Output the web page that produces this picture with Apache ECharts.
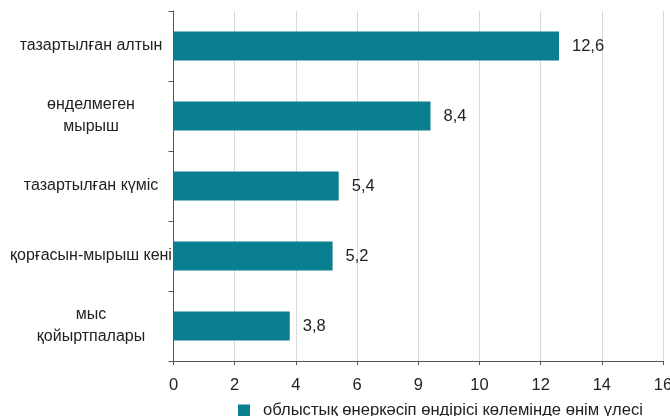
<!DOCTYPE html>
<html>
<head>
<meta charset="utf-8">
<script src="https://cdn.jsdelivr.net/npm/echarts@6/dist/echarts.min.js"></script>
<style>
html,body{margin:0;padding:0;background:#fff;}
#chart{width:670px;height:416px;}
</style>
</head>
<body>
<div id="chart"></div>
<script>
var categories = [
  'тазартылған алтын',
  'өнделмеген\nмырыш',
  'тазартылған күміс',
  'қорғасын-мырыш кені',
  'мыс\nқойыртпалары'
];
var values = [12.6, 8.4, 5.4, 5.2, 3.8];
var tickLabels = ['0', '2', '4', '6', '9', '10', '12', '14', '16'];
var seriesName = 'облыстық өнеркәсіп өндірісі көлемінде өнім үлесі';

var FONT = '"Liberation Sans", Arial, sans-serif';
var chart = echarts.init(document.getElementById('chart'), null, {renderer: 'canvas'});
chart.setOption({
  animation: false,
  backgroundColor: '#ffffff',
  textStyle: {fontFamily: FONT},
  grid: {left: 173.5, right: 7, top: 11, bottom: 55, containLabel: false, outerBoundsMode: 'none'},
  legend: {
    left: 238,
    top: 402,
    padding: 0,
    icon: 'rect',
    itemWidth: 12,
    itemHeight: 12,
    itemGap: 10,
    textStyle: {fontFamily: FONT, fontSize: 16.6, color: '#222', padding: [0, 0, 0, 8]},
    data: [seriesName]
  },
  xAxis: {
    type: 'value',
    min: 0,
    max: 16,
    interval: 2,
    axisLine: {show: true, lineStyle: {color: '#555', width: 1}},
    axisTick: {show: true, length: 4, lineStyle: {color: '#555'}},
    splitLine: {show: true, lineStyle: {color: '#d9d9d9', width: 1}},
    axisLabel: {
      fontFamily: FONT,
      fontSize: 16.5,
      color: '#222',
      margin: 16,
      formatter: function (v) { return tickLabels[Math.round(v / 2)]; }
    }
  },
  yAxis: {
    type: 'category',
    inverse: true,
    data: categories,
    axisLine: {show: true, lineStyle: {color: '#555', width: 1}},
    axisTick: {show: true, length: 5, lineStyle: {color: '#555'}},
    axisLabel: {
      fontFamily: FONT,
      fontSize: 16,
      color: '#222',
      align: 'center',
      margin: 82.5,
      lineHeight: 22
    }
  },
  series: [{
    name: seriesName,
    type: 'bar',
    data: values,
    barWidth: 29,
    itemStyle: {color: '#0a7f8f'},
    label: {
      show: true,
      position: 'right',
      distance: 13,
      fontFamily: FONT,
      fontSize: 16.5,
      color: '#222',
      formatter: function (p) { return String(p.value).replace('.', ','); }
    }
  }]
});
</script>
</body>
</html>
